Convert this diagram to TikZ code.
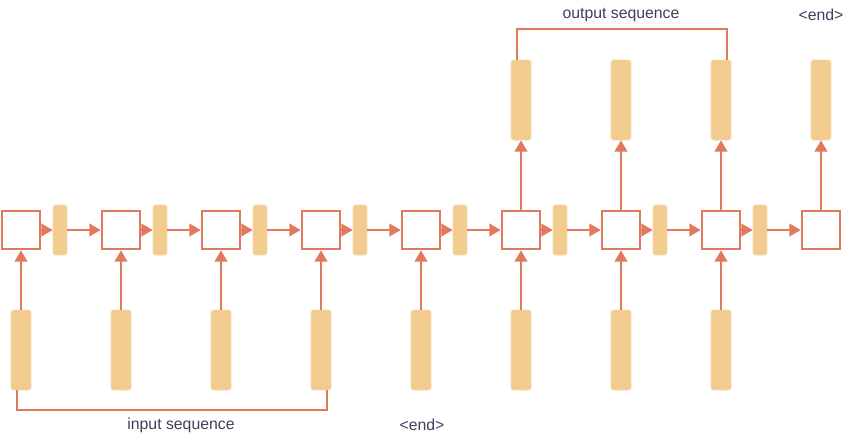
\documentclass[tikz,border=0pt]{standalone}
\usepackage{fontspec}
\setmainfont{Liberation Sans}
\usetikzlibrary{arrows.meta}

\definecolor{salmon}{RGB}{224,122,95}
\definecolor{sand}{RGB}{242,204,143}
\definecolor{sandline}{RGB}{246,216,168}
\definecolor{slate}{RGB}{61,64,91}

\tikzset{every picture/.style={line width=0.75pt}}
\tikzset{
  cell/.style={draw=salmon, line width=1.5pt, fill=white, minimum width=29pt, minimum height=29pt, inner sep=0pt},
  hbar/.style={draw=sandline, line width=0.5pt, fill=sand, rounded corners=2pt, minimum width=10.5pt, minimum height=37.5pt, inner sep=0pt},
  vbar/.style={draw=sandline, line width=0.5pt, fill=sand, rounded corners=2pt, minimum width=15pt, minimum height=60pt, inner sep=0pt},
  link/.style={draw=salmon, line width=1.5pt, -{Triangle[length=8.5pt 0 0,width=9.5pt 0 0]}},
  brace/.style={draw=salmon, line width=1.5pt},
  label/.style={text=slate, font=\fontsize{11.85}{14}\selectfont, inner sep=0.75pt}
}

\begin{document}
\begin{tikzpicture}[x=0.75pt,y=0.75pt,yscale=-1,xscale=1]
\path (0,0) rectangle (849,440); %set diagram size

%Shape: Cells
\node [cell] (c1) at (21,230) {};
\node [cell] (c2) at (121,230) {};
\node [cell] (c3) at (221,230) {};
\node [cell] (c4) at (321,230) {};
\node [cell] (c5) at (421,230) {};
\node [cell] (c6) at (521,230) {};
\node [cell] (c7) at (621,230) {};
\node [cell] (c8) at (721,230) {};
\node [cell] (c9) at (821,230) {};

%Shape: Hidden states
\node [hbar] (h1) at (60,230) {};
\node [hbar] (h2) at (160,230) {};
\node [hbar] (h3) at (260,230) {};
\node [hbar] (h4) at (360,230) {};
\node [hbar] (h5) at (460,230) {};
\node [hbar] (h6) at (560,230) {};
\node [hbar] (h7) at (660,230) {};
\node [hbar] (h8) at (760,230) {};

%Shape: Inputs
\node [vbar] (x1) at (21,350) {};
\node [vbar] (x2) at (121,350) {};
\node [vbar] (x3) at (221,350) {};
\node [vbar] (x4) at (321,350) {};
\node [vbar] (x5) at (421,350) {};
\node [vbar] (x6) at (521,350) {};
\node [vbar] (x7) at (621,350) {};
\node [vbar] (x8) at (721,350) {};

%Shape: Outputs
\node [vbar] (y1) at (521,100) {};
\node [vbar] (y2) at (621,100) {};
\node [vbar] (y3) at (721,100) {};
\node [vbar] (y4) at (821,100) {};

%Straight Lines: cell to state to cell
\draw [link] (c1) -- (h1);
\draw [link] (h1) -- (c2);
\draw [link] (c2) -- (h2);
\draw [link] (h2) -- (c3);
\draw [link] (c3) -- (h3);
\draw [link] (h3) -- (c4);
\draw [link] (c4) -- (h4);
\draw [link] (h4) -- (c5);
\draw [link] (c5) -- (h5);
\draw [link] (h5) -- (c6);
\draw [link] (c6) -- (h6);
\draw [link] (h6) -- (c7);
\draw [link] (c7) -- (h7);
\draw [link] (h7) -- (c8);
\draw [link] (c8) -- (h8);
\draw [link] (h8) -- (c9);

%Straight Lines: inputs
\draw [link] (x1) -- (c1);
\draw [link] (x2) -- (c2);
\draw [link] (x3) -- (c3);
\draw [link] (x4) -- (c4);
\draw [link] (x5) -- (c5);
\draw [link] (x6) -- (c6);
\draw [link] (x7) -- (c7);
\draw [link] (x8) -- (c8);

%Straight Lines: outputs
\draw [link] (c6) -- (y1);
\draw [link] (c7) -- (y2);
\draw [link] (c8) -- (y3);
\draw [link] (c9) -- (y4);

%Brackets
\draw [brace] ([xshift=-3pt]x1.south) -- ++(0,20) -| ([xshift=4.5pt]x4.south);
\draw [brace] ([xshift=-3pt]y1.north) -- ++(0,-31) -| ([xshift=4.5pt]y3.north);

% Text Node
\node [label] (inseq) at (181,425) {input sequence};
% Text Node
\node [label] (inend) at (422,425) {<end>};
% Text Node
\node [label] (outseq) at (621,15) {output sequence};
% Text Node
\node [label] (outend) at (821,15) {<end>};

\end{tikzpicture}
\end{document}
